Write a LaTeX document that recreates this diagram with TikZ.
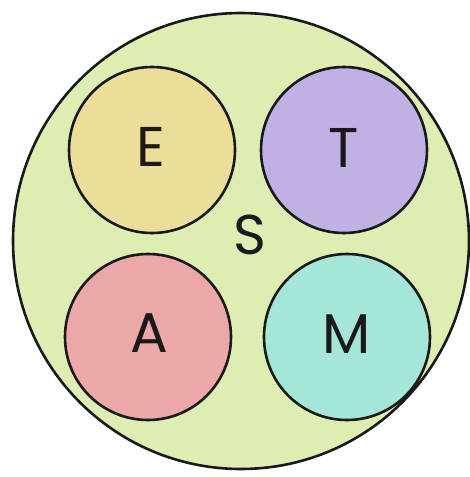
\documentclass[tikz,border=0pt]{standalone}
\usepackage{fontspec}
\setmainfont{Poppins}
\definecolor{bigfill}{RGB}{222,238,178}
\definecolor{efill}{RGB}{236,222,152}
\definecolor{tfill}{RGB}{192,176,228}
\definecolor{afill}{RGB}{236,168,168}
\definecolor{mfill}{RGB}{166,230,216}
\tikzset{
  circ/.style={circle, draw=black!90, line width=2.6pt, inner sep=0pt, minimum size=166pt},
  lett/.style={font=\fontsize{56}{56}\selectfont, text=black!90, anchor=base, inner sep=0pt},
}
\begin{document}
\begin{tikzpicture}[x=1pt,y=-1pt]
\useasboundingbox (0,0) rectangle (470,477);
\node[circle, draw=black!90, line width=2.6pt, fill=bigfill, minimum size=456pt, inner sep=0pt] (big) at (241,241) {};
\node[circ, fill=efill] (E) at (152,150) {};
\node[circ, fill=tfill] (T) at (344,150) {};
\node[circ, fill=afill] (A) at (148,337) {};
\node[circ, fill=mfill] (M) at (347,337) {};
\node[lett] (Et) at (151,166) {E};
\node[lett] (Tt) at (344,167) {T};
\node[lett] (At) at (149,352) {A};
\node[lett] (Mt) at (347,353) {M};
\node[lett] (S) at (250,254) {S};
\end{tikzpicture}
\end{document}
